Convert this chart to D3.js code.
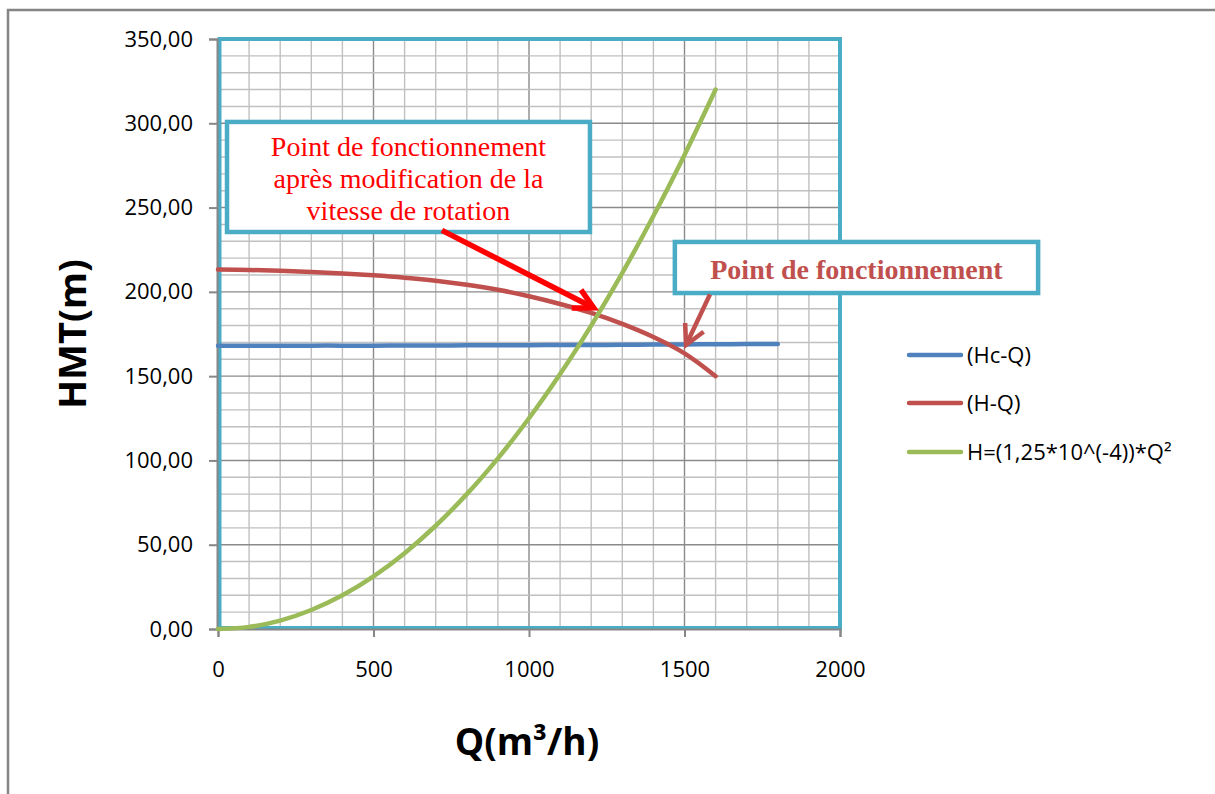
<!DOCTYPE html>
<html>
<head>
<meta charset="utf-8">
<script src="https://cdn.jsdelivr.net/npm/d3@7"></script>
<style>
  html, body { margin: 0; padding: 0; background: #fff; }
  svg { display: block; }
</style>
</head>
<body>
<svg id="chart" width="1215" height="794"></svg>
<script>
// Débits (m³/h)
const qPump = [0, 100, 200, 300, 400, 500, 600, 700, 800, 900, 1000, 1100, 1200, 1300, 1400, 1500, 1600];
const qSys = [0, 100, 200, 300, 400, 500, 600, 700, 800, 900, 1000, 1100, 1200, 1300, 1400, 1500, 1600, 1700, 1800];

// Courbe caractéristique de la conduite (Hc-Q)
const hcValues = [168.0, 168.0, 168.0, 168.1, 168.1, 168.1, 168.2, 168.2, 168.3, 168.3, 168.4, 168.5, 168.5, 168.6, 168.7, 168.8, 168.9, 169.0, 169.1];
// Courbe de la pompe (H-Q)
const hqValues = [213.3, 213.0, 212.5, 211.8, 210.9, 209.8, 208.4, 206.6, 204.2, 201.2, 197.4, 192.8, 187.5, 181.0, 173.2, 163.5, 150.0];
// Parabole H = 1,25e-4 · Q²
const parabValues = [0, 1.25, 5, 11.25, 20, 31.25, 45, 61.25, 80, 101.25, 125, 151.25, 180, 211.25, 245, 281.25, 320];

const seriesNames = ["(Hc-Q)", "(H-Q)", "H=(1,25*10^(-4))*Q²"];
const seriesColors = ["#4F81BD", "#C0504D", "#9BBB59"];

const xTicks = [0, 500, 1000, 1500, 2000];
const yTicks = [0, 50, 100, 150, 200, 250, 300, 350];
const yTickLabels = ["0,00", "50,00", "100,00", "150,00", "200,00", "250,00", "300,00", "350,00"];

const svg = d3.select("#chart");

// cadre extérieur
svg.append("rect")
  .attr("x", 8).attr("y", 10).attr("width", 1400).attr("height", 1000)
  .attr("fill", "none").attr("stroke", "#858585").attr("stroke-width", 2.5);

const x = d3.scaleLinear().domain([0, 2000]).range([218, 840]);
const y = d3.scaleLinear().domain([0, 350]).range([629, 39]);

// quadrillage
const grid = svg.append("g");
d3.range(0, 2001, 100).forEach(v => {
  grid.append("line")
    .attr("x1", x(v)).attr("x2", x(v)).attr("y1", y(0)).attr("y2", y(350))
    .attr("stroke", v % 500 === 0 ? "#8a8a8a" : "#c0c0c0").attr("stroke-width", 1.4);
});
d3.range(0, 351, 10).forEach(v => {
  grid.append("line")
    .attr("x1", x(0)).attr("x2", x(2000)).attr("y1", y(v)).attr("y2", y(v))
    .attr("stroke", v % 50 === 0 ? "#8a8a8a" : "#c0c0c0").attr("stroke-width", 1.4);
});

// bordure de la zone de tracé
svg.append("rect")
  .attr("x", x(0) + 1.5).attr("y", y(350)).attr("width", x(2000) - x(0) - 1.5).attr("height", y(0) - y(350) - 1)
  .attr("fill", "none").attr("stroke", "#4BACC6").attr("stroke-width", 4);

// axes
const axisColor = "#868686";
const yAxis = svg.append("g").attr("transform", `translate(${x(0) - 1},0)`)
  .call(d3.axisLeft(y).tickValues(yTicks).tickSize(8).tickFormat((d, i) => yTickLabels[i]).tickPadding(16));
const xAxis = svg.append("g").attr("transform", `translate(0,${y(0)})`)
  .call(d3.axisBottom(x).tickValues(xTicks).tickSize(8).tickFormat(d3.format("d")).tickPadding(24));
[yAxis, xAxis].forEach(a => {
  a.select(".domain").attr("stroke", axisColor).attr("stroke-width", 2);
  a.selectAll(".tick line").attr("stroke", axisColor).attr("stroke-width", 2);
  a.selectAll(".tick text")
    .attr("fill", "#000").style("font-family", "'Open Sans', sans-serif").style("font-size", "22px");
});

// courbes
const line = d3.line()
  .x(d => x(d[0])).y(d => y(d[1]))
  .curve(d3.curveCatmullRom.alpha(0.5));

const series = [
  qSys.map((q, i) => [q, hcValues[i]]),
  qPump.map((q, i) => [q, hqValues[i]]),
  qPump.map((q, i) => [q, parabValues[i]])
];

series.forEach((s, i) => {
  svg.append("path")
    .datum(s)
    .attr("d", line)
    .attr("fill", "none")
    .attr("stroke", seriesColors[i])
    .attr("stroke-width", 4.5)
    .attr("stroke-linecap", "round")
    .attr("stroke-linejoin", "round");
});

// annotations (coordonnées en unités du graphique)
function arrow(from, to, color, width) {
  const x1 = x(from[0]), y1 = y(from[1]), x2 = x(to[0]), y2 = y(to[1]);
  const ang = Math.atan2(y2 - y1, x2 - x1);
  const L = 22, spread = Math.PI / 6.5;
  const g = svg.append("g");
  g.append("line")
    .attr("x1", x1).attr("y1", y1)
    .attr("x2", x2 - Math.cos(ang) * 3).attr("y2", y2 - Math.sin(ang) * 3)
    .attr("stroke", color).attr("stroke-width", width);
  const w1 = [x2 - L * Math.cos(ang - spread), y2 - L * Math.sin(ang - spread)];
  const w2 = [x2 - L * Math.cos(ang + spread), y2 - L * Math.sin(ang + spread)];
  g.append("path")
    .attr("d", `M${w1[0]},${w1[1]}L${x2},${y2}L${w2[0]},${w2[1]}`)
    .attr("fill", "none").attr("stroke", color).attr("stroke-width", width)
    .attr("stroke-linejoin", "miter").attr("stroke-linecap", "butt");
}

function box(q0, h0, q1, h1) {
  svg.append("rect")
    .attr("x", x(q0)).attr("y", y(h0))
    .attr("width", x(q1) - x(q0)).attr("height", y(h1) - y(h0))
    .attr("fill", "#fff").attr("stroke", "#4BACC6").attr("stroke-width", 4.5);
}

// boîte 1 : après modification de la vitesse
box(29, 300.8, 1196, 235.5);
const t1 = svg.append("text")
  .attr("text-anchor", "middle")
  .style("font-family", "'Liberation Serif', 'Times New Roman', serif")
  .style("font-size", "28px")
  .attr("fill", "#FF0000");
["Point de fonctionnement", "après modification de la", "vitesse de rotation"].forEach((s, i) => {
  t1.append("tspan").attr("x", (x(29) + x(1196)) / 2).attr("y", 156 + i * 32).text(s);
});
arrow([720, 236.5], [1208, 190.5], "#FF0000", 5.5);

// boîte 2 : point de fonctionnement
box(1469, 229.6, 2637, 199.3);
svg.append("text")
  .attr("x", (x(1469) + x(2637)) / 2).attr("y", 279)
  .attr("text-anchor", "middle")
  .style("font-family", "'Liberation Serif', 'Times New Roman', serif")
  .style("font-size", "28px").style("font-weight", "bold")
  .attr("fill", "#C0504D")
  .text("Point de fonctionnement");
arrow([1582, 198.5], [1505, 168.5], "#C0504D", 4.5);

// légende
const legend = svg.append("g");
const legendY = [355, 403, 452];
seriesNames.forEach((n, i) => {
  legend.append("line")
    .attr("x1", 909).attr("x2", 961).attr("y1", legendY[i]).attr("y2", legendY[i])
    .attr("stroke", seriesColors[i]).attr("stroke-width", 4.5).attr("stroke-linecap", "round");
  legend.append("text")
    .attr("x", 967).attr("y", legendY[i]).attr("dy", "0.35em")
    .style("font-family", "'Open Sans', sans-serif").style("font-size", "22px")
    .attr("fill", "#000").text(n);
});

// titres des axes
svg.append("text")
  .attr("transform", "translate(86,334) rotate(-90)")
  .attr("text-anchor", "middle")
  .style("font-family", "'Open Sans', sans-serif").style("font-size", "38px").style("font-weight", "bold")
  .attr("fill", "#000").text("HMT(m)");
svg.append("text")
  .attr("x", 527).attr("y", 755)
  .attr("text-anchor", "middle")
  .style("font-family", "'Open Sans', sans-serif").style("font-size", "37px").style("font-weight", "bold")
  .attr("fill", "#000").text("Q(m³/h)");
</script>
</body>
</html>
